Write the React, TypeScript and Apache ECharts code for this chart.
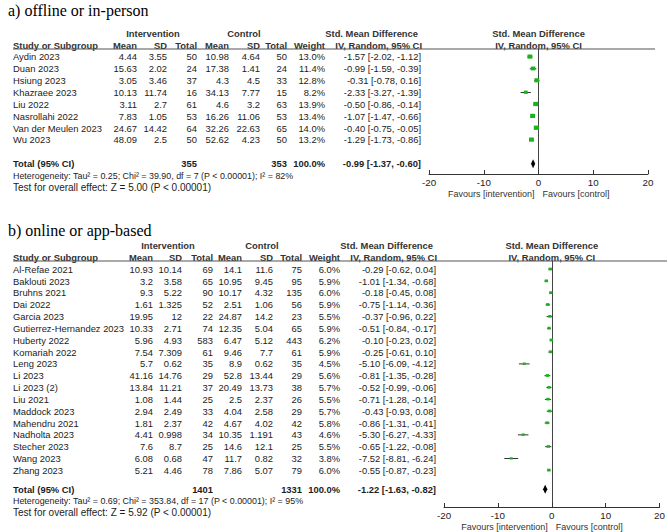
import React, { useEffect, useRef } from 'react';
import * as echarts from 'echarts';

// ---------- Panel a: offline or in-person ----------
const titleA = 'a) offline or in-person';
const studiesA = ['Aydin 2023', 'Duan 2023', 'Hsiung 2023', 'Khazraee 2023', 'Liu 2022', 'Nasrollahi 2022', 'Van der Meulen 2023', 'Wu 2023'];
const intMeanA = [4.44, 15.63, 3.05, 10.13, 3.11, 7.83, 24.67, 48.09];
const intSdA = [3.55, 2.02, 3.46, 11.74, 2.7, 1.05, 14.42, 2.5];
const intNA = [50, 24, 37, 16, 61, 53, 64, 50];
const ctlMeanA = [10.98, 17.38, 4.3, 34.13, 4.6, 16.26, 32.26, 52.62];
const ctlSdA = [4.64, 1.41, 4.5, 7.77, 3.2, 11.06, 22.63, 4.23];
const ctlNA = [50, 24, 33, 15, 63, 53, 65, 50];
const weightA = [13.0, 11.4, 12.8, 8.2, 13.9, 13.4, 14.0, 13.2];
const smdA = [-1.57, -0.99, -0.31, -2.33, -0.50, -1.07, -0.40, -1.29];
const loA = [-2.02, -1.59, -0.78, -3.27, -0.86, -1.47, -0.75, -1.73];
const hiA = [-1.12, -0.39, 0.16, -1.39, -0.14, -0.66, -0.05, -0.86];
const totalNA = [355, 353];
const pooledA = [-0.99, -1.37, -0.60];
const hetA = 'Heterogeneity: Tau² = 0.25; Chi² = 39.90, df = 7 (P < 0.00001); I² = 82%';
const testA = 'Test for overall effect: Z = 5.00 (P < 0.00001)';

// ---------- Panel b: online or app-based ----------
const titleB = 'b) online or app-based';
const studiesB = ['Al-Refae 2021', 'Baklouti 2023', 'Bruhns 2021', 'Dai 2022', 'Garcia 2023', 'Gutierrez-Hernandez 2023', 'Huberty 2022', 'Komariah 2022', 'Leng 2023', 'Li 2023', 'Li 2023 (2)', 'Liu 2021', 'Maddock 2023', 'Mahendru 2021', 'Nadholta 2023', 'Stecher 2023', 'Wang 2023', 'Zhang 2023'];
const intMeanB = [10.93, 3.2, 9.3, 1.61, 19.95, 10.33, 5.96, 7.54, 5.7, 41.16, 13.84, 1.08, 2.94, 1.81, 4.41, 7.6, 6.08, 5.21];
const intSdB = [10.14, 3.58, 5.22, 1.325, 12, 2.71, 4.93, 7.309, 0.62, 14.76, 11.21, 1.44, 2.49, 2.37, 0.998, 8.7, 0.68, 4.46];
const intNB = [69, 65, 90, 52, 22, 74, 583, 61, 35, 29, 37, 25, 33, 42, 34, 25, 47, 78];
const ctlMeanB = [14.1, 10.95, 10.17, 2.51, 24.87, 12.35, 6.47, 9.46, 8.9, 52.8, 20.49, 2.5, 4.04, 4.67, 10.35, 14.6, 11.7, 7.86];
const ctlSdB = [11.6, 9.45, 4.32, 1.06, 14.2, 5.04, 5.12, 7.7, 0.62, 13.44, 13.73, 2.37, 2.58, 4.02, 1.191, 12.1, 0.82, 5.07];
const ctlNB = [75, 95, 135, 56, 23, 65, 443, 61, 35, 29, 38, 26, 29, 42, 43, 25, 32, 79];
const weightB = [6.0, 5.9, 6.0, 5.9, 5.5, 5.9, 6.2, 5.9, 4.5, 5.6, 5.7, 5.5, 5.7, 5.8, 4.6, 5.5, 3.8, 6.0];
const smdB = [-0.29, -1.01, -0.18, -0.75, -0.37, -0.51, -0.10, -0.25, -5.10, -0.81, -0.52, -0.71, -0.43, -0.86, -5.30, -0.65, -7.52, -0.55];
const loB = [-0.62, -1.34, -0.45, -1.14, -0.96, -0.84, -0.23, -0.61, -6.09, -1.35, -0.99, -1.28, -0.93, -1.31, -6.27, -1.22, -8.81, -0.87];
const hiB = [0.04, -0.68, 0.08, -0.36, 0.22, -0.17, 0.02, 0.10, -4.12, -0.28, -0.06, -0.14, 0.08, -0.41, -4.33, -0.08, -6.24, -0.23];
const totalNB = [1401, 1331];
const pooledB = [-1.22, -1.63, -0.82];
const hetB = 'Heterogeneity: Tau² = 0.69; Chi² = 353.84, df = 17 (P < 0.00001); I² = 95%';
const testB = 'Test for overall effect: Z = 5.92 (P < 0.00001)';

// axis ticks
const xTicks = [-20, -10, 0, 10, 20];
const xMin = xTicks[0];
const xMax = xTicks[xTicks.length - 1];
const xStep = xTicks[1] - xTicks[0];

const FONT = '"Liberation Sans", Arial, Helvetica, sans-serif';
const NARROW = '"Liberation Sans Narrow", "Arial Narrow", "Liberation Sans", sans-serif';
const FS = 9.4;
const TXT = '#1c1c1c';
const GREEN = '#1bb31b';

type Panel = {
  title: string; studies: string[]; im: number[]; isd: number[]; inn: number[];
  cm: number[]; csd: number[]; cn: number[]; w: number[]; smd: number[]; lo: number[]; hi: number[];
  totals: number[]; pooled: number[]; het: string; test: string;
  layout: any;
};

const panels: Panel[] = [
  {
    title: titleA, studies: studiesA, im: intMeanA, isd: intSdA, inn: intNA, cm: ctlMeanA, csd: ctlSdA, cn: ctlNA,
    w: weightA, smd: smdA, lo: loA, hi: hiA, totals: totalNA, pooled: pooledA, het: hetA, test: testA,
    layout: {
      titleY: 10, grid: { left: 429, top: 49, width: 219, height: 125 }, yMin: -0.67, yMax: 9.87, totalRow: 9,
      cols: { name: 13, m: 137, sd: 167, n: 197, cm: 229, csd: 260, cn: 287, w: 325, ci: 421 },
      smdHeadRight: 418, ivHeadRight: 422, intC: 153, ctlC: 244, lineRight: 655,
    },
  },
  {
    title: titleB, studies: studiesB, im: intMeanB, isd: intSdB, inn: intNB, cm: ctlMeanB, csd: ctlSdB, cn: ctlNB,
    w: weightB, smd: smdB, lo: loB, hi: hiB, totals: totalNB, pooled: pooledB, het: hetB, test: testB,
    layout: {
      titleY: 230, grid: { left: 444, top: 261, width: 219, height: 246 }, yMin: -0.7, yMax: 20.1, totalRow: 18.6,
      cols: { name: 13, m: 153, sd: 182, n: 213, cm: 242, csd: 273, cn: 302, w: 340, ci: 436 },
      smdHeadRight: 433, ivHeadRight: 437, intC: 168, ctlC: 262, lineRight: 667,
    },
  },
];

const fmtCI = (e: number, l: number, h: number) => `${e.toFixed(2)} [${l.toFixed(2)}, ${h.toFixed(2)}]`;

export default function App() {
  const ref = useRef<HTMLDivElement>(null);
  useEffect(() => {
    if (!ref.current) return;
    const chart = echarts.init(ref.current, undefined, { renderer: 'svg' });

    const grids = panels.map((p) => ({ ...p.layout.grid }));
    const xAxes = panels.map((_, i) => ({
      type: 'value', gridIndex: i, min: xMin, max: xMax, interval: xStep,
      axisLine: { show: true, onZero: false, lineStyle: { color: '#333', width: 1 } },
      axisTick: { show: true, inside: true, length: 4, lineStyle: { color: '#333' } },
      axisLabel: { fontSize: 9.8, color: TXT, fontFamily: FONT, margin: 3 },
      splitLine: { show: false },
    }));
    const yAxes = panels.map((p, i) => ({
      type: 'value', gridIndex: i, inverse: true, min: p.layout.yMin, max: p.layout.yMax,
      axisLine: { show: true, onZero: true, lineStyle: { color: '#444', width: 1 } },
      axisTick: { show: false }, axisLabel: { show: false }, splitLine: { show: false },
    }));

    const series: any[] = [];
    panels.forEach((p, i) => {
      series.push({
        type: 'custom', xAxisIndex: i, yAxisIndex: i,
        data: p.studies.map((_, k) => [p.smd[k], p.lo[k], p.hi[k], k, p.w[k]]),
        encode: { x: [0, 1, 2], y: 3 },
        renderItem: (params: any, api: any) => {
          const y = api.value(3);
          const a = api.coord([api.value(1), y]);
          const b = api.coord([api.value(2), y]);
          const c = api.coord([api.value(0), y]);
          const s = 1.35 * Math.sqrt(api.value(4));
          return {
            type: 'group', children: [
              { type: 'line', shape: { x1: a[0], y1: a[1], x2: b[0], y2: b[1] }, style: { stroke: '#333', lineWidth: 1 } },
              { type: 'rect', shape: { x: c[0] - s / 2, y: c[1] - s / 2, width: s, height: s * 0.85 }, style: { fill: GREEN } },
            ],
          };
        },
      });
      series.push({
        type: 'custom', xAxisIndex: i, yAxisIndex: i,
        data: [[p.pooled[0], p.pooled[1], p.pooled[2], p.layout.totalRow]],
        encode: { x: [0, 1, 2], y: 3 },
        renderItem: (params: any, api: any) => {
          const y = api.value(3);
          const c = api.coord([api.value(0), y]);
          const a = api.coord([api.value(1), y]);
          const b = api.coord([api.value(2), y]);
          return {
            type: 'polygon',
            shape: { points: [[a[0], a[1]], [c[0], c[1] - 4.5], [b[0], b[1]], [c[0], c[1] + 4.5]] },
            style: { fill: '#000' },
          };
        },
      });
    });

    chart.setOption({
      animation: false,
      backgroundColor: '#fff',
      grid: grids,
      xAxis: xAxes,
      yAxis: yAxes,
      series,
    });

    const graphic: any[] = [];
    const txt = (x: number, y: number, text: string, align: string, bold = false, extra: any = {}) => {
      graphic.push({
        type: 'text', x, y, silent: true,
        style: {
          text, fill: TXT, fontFamily: FONT, fontSize: FS, fontWeight: bold ? 'bold' : 'normal',
          align, verticalAlign: 'middle', ...extra,
        },
      });
    };

    panels.forEach((p, i) => {
      const L = p.layout;
      const C = L.cols;
      const rowY = (r: number) => chart.convertToPixel({ yAxisIndex: i } as any, r) as unknown as number;
      const x0 = chart.convertToPixel({ xAxisIndex: i } as any, 0) as unknown as number;
      const gTop = L.grid.top;
      const gBottom = L.grid.top + L.grid.height;

      // title
      graphic.push({
        type: 'text', x: 8, y: L.titleY, silent: true,
        style: { text: p.title, fill: '#000', fontFamily: '"Liberation Serif", "Times New Roman", serif', fontSize: 16, align: 'left', verticalAlign: 'middle' },
      });

      // header rows
      const h1 = rowY(-2);
      const h2 = rowY(-1);
      const H = { fill: '#333' };
      txt(L.intC, h1, 'Intervention', 'center', true, H);
      txt(L.ctlC, h1, 'Control', 'center', true, H);
      txt(L.smdHeadRight, h1, 'Std. Mean Difference', 'right', true, H);
      txt(x0, h1, 'Std. Mean Difference', 'center', true, H);
      txt(C.name, h2, 'Study or Subgroup', 'left', true, H);
      txt(C.m, h2, 'Mean', 'right', true, H);
      txt(C.sd, h2, 'SD', 'right', true, H);
      txt(C.n, h2, 'Total', 'right', true, H);
      txt(C.cm, h2, 'Mean', 'right', true, H);
      txt(C.csd, h2, 'SD', 'right', true, H);
      txt(C.cn, h2, 'Total', 'right', true, H);
      txt(C.w, h2, 'Weight', 'right', true, H);
      txt(L.ivHeadRight, h2, 'IV, Random, 95% CI', 'right', true, H);
      txt(x0, h2, 'IV, Random, 95% CI', 'center', true, H);

      // header underline
      graphic.push({
        type: 'line', silent: true,
        shape: { x1: C.name, y1: gTop, x2: L.lineRight, y2: gTop },
        style: { stroke: '#555', lineWidth: 1.2 },
      });

      // study rows
      p.studies.forEach((s, k) => {
        const y = rowY(k);
        txt(C.name, y, s, 'left');
        txt(C.m, y, String(p.im[k]), 'right');
        txt(C.sd, y, String(p.isd[k]), 'right');
        txt(C.n, y, String(p.inn[k]), 'right');
        txt(C.cm, y, String(p.cm[k]), 'right');
        txt(C.csd, y, String(p.csd[k]), 'right');
        txt(C.cn, y, String(p.cn[k]), 'right');
        txt(C.w, y, p.w[k].toFixed(1) + '%', 'right');
        txt(C.ci, y, fmtCI(p.smd[k], p.lo[k], p.hi[k]), 'right');
      });

      // total rows
      const ty = rowY(L.totalRow);
      txt(C.name, ty, 'Total (95% CI)', 'left', true);
      txt(C.n, ty, String(p.totals[0]), 'right', true);
      txt(C.cn, ty, String(p.totals[1]), 'right', true);
      txt(C.w, ty, '100.0%', 'right', true);
      txt(C.ci, ty, fmtCI(p.pooled[0], p.pooled[1], p.pooled[2]), 'right', true);
      txt(C.name, rowY(L.totalRow + 1), p.het, 'left', false, { fontFamily: NARROW, fontSize: 8.9 });
      txt(C.name, rowY(L.totalRow + 2), p.test, 'left', false, { fontFamily: NARROW, fontSize: 10 });

      // favours labels
      const fy = gBottom + 20;
      txt(x0 - 4, fy, 'Favours [intervention]', 'right', false, { fontSize: 9, fill: '#333' });
      txt(x0 + 4, fy, 'Favours [control]', 'left', false, { fontSize: 9, fill: '#333' });
    });

    chart.setOption({ graphic });
    return () => chart.dispose();
  }, []);

  return <div ref={ref} style={{ position: 'fixed', left: 0, top: 0, width: 668, height: 532, background: '#fff' }} />;
}
